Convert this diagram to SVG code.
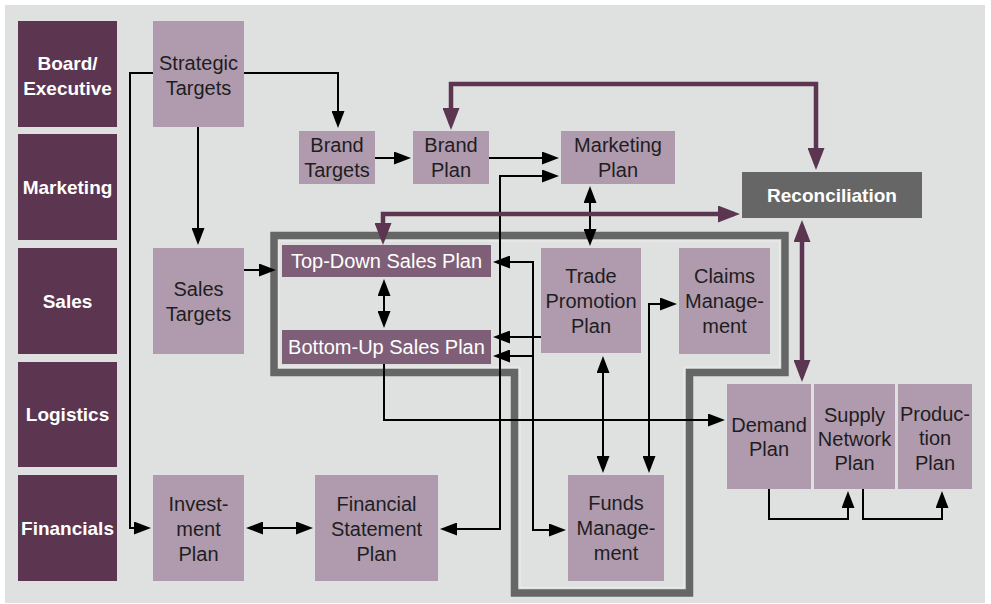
<svg xmlns="http://www.w3.org/2000/svg" width="991" height="604" viewBox="0 0 991 604">
<defs>
<style>
.lane rect{fill:#5c3550}
.lane text{fill:#fff;font-family:'Liberation Sans',Arial,sans-serif;font-weight:bold;font-size:19px;text-anchor:middle}
.node rect{fill:#b09aae}
.node text{fill:#1e1e1e;font-family:'Liberation Sans',Arial,sans-serif;font-size:20px;text-anchor:middle}
.mid rect{fill:#7e5f77}
.mid text{fill:#fff}
.dark rect{fill:#666}
.dark text{fill:#fff;font-weight:bold;font-size:19px}
.blk{fill:none;stroke:#000;stroke-width:2}
.pur{fill:none;stroke:#5c3550;stroke-width:4.5}
.e{marker-end:url(#ab)}
.se{marker-start:url(#ab);marker-end:url(#ab)}
.pse{marker-start:url(#ap);marker-end:url(#ap)}
</style>
<marker id="ab" markerUnits="userSpaceOnUse" markerWidth="17" markerHeight="13" refX="14" refY="6.5" orient="auto-start-reverse"><path d="M0,0 L17,6.5 L0,13 Z" fill="#000"/></marker>
<marker id="ap" markerUnits="userSpaceOnUse" markerWidth="22" markerHeight="17" refX="16" refY="8.5" orient="auto-start-reverse"><path d="M0,0 L22,8.5 L0,17 Z" fill="#5c3550"/></marker>
</defs>
<rect x="0" y="0" width="991" height="604" fill="#fff"/>
<rect x="5" y="5" width="980" height="598" fill="#dfe1e0"/>

<g id="lanes">
<g id="lane-board" class="lane"><rect x="18" y="21" width="99" height="106"/><text x="67.5" y="70">Board/</text><text x="67.5" y="95">Executive</text></g>
<g id="lane-marketing" class="lane"><rect x="18" y="134" width="99" height="106"/><text x="67.5" y="194">Marketing</text></g>
<g id="lane-sales" class="lane"><rect x="18" y="248" width="99" height="106"/><text x="67.5" y="308">Sales</text></g>
<g id="lane-logistics" class="lane"><rect x="18" y="362" width="99" height="105"/><text x="67.5" y="421">Logistics</text></g>
<g id="lane-financials" class="lane"><rect x="18" y="475" width="99" height="106"/><text x="67.5" y="535">Financials</text></g>
</g>

<g id="frame">
<path d="M274,235.5 H785 V372.5 H689.5 V593 H514.5 V372.5 H274 Z" fill="none" stroke="#666" stroke-width="7.5"/>
<path d="M279,241 H779.5 V367 H684 V587.5 H520 V367 H279 Z" fill="none" stroke="#ececec" stroke-width="1"/>
</g>

<g id="connectors">
<path class="blk e" d="M244,73 H338 V125"/>
<path class="blk e" d="M198,127 V242"/>
<path class="blk e" d="M153,73 H130 V528 H148"/>
<path class="blk e" d="M375,158 H408"/>
<path class="blk e" d="M489,158 H556"/>
<path class="blk se" d="M443,529 H500 V176 H556"/>
<path class="blk se" d="M590,189 V243"/>
<path class="blk e" d="M244,270 H273"/>
<path class="blk se" d="M384,282 V325"/>
<path class="blk se" d="M496,262 H533 V530 H563"/>
<path class="blk e" d="M533,356 H496"/>
<path class="blk e" d="M541,337 H496"/>
<path class="blk se" d="M603,359 V470"/>
<path class="blk se" d="M674,304 H649 V470"/>
<path class="blk e" d="M384,364 V420 H722"/>
<path class="blk se" d="M249,528 H310"/>
<path class="blk e" d="M769,489 V519 H848 V494"/>
<path class="blk e" d="M863,489 V519 H942 V494"/>
<path class="pur pse" d="M451,124 V84 H816 V164"/>
<path class="pur pse" d="M383,239 V214 H734"/>
<path class="pur pse" d="M802,226 V376"/>
</g>

<g id="strategic-targets" class="node"><rect x="153" y="21" width="91" height="106"/><text x="198.5" y="70">Strategic</text><text x="198.5" y="95">Targets</text></g>
<g id="sales-targets" class="node"><rect x="153" y="248" width="91" height="106"/><text x="198.5" y="296">Sales</text><text x="198.5" y="321">Targets</text></g>
<g id="investment-plan" class="node"><rect x="153" y="475" width="91" height="106"/><text x="198.5" y="511">Invest-</text><text x="198.5" y="536">ment</text><text x="198.5" y="561">Plan</text></g>
<g id="brand-targets" class="node"><rect x="299" y="131" width="76" height="53"/><text x="337" y="152">Brand</text><text x="337" y="177">Targets</text></g>
<g id="brand-plan" class="node"><rect x="413" y="131" width="76" height="53"/><text x="451" y="152">Brand</text><text x="451" y="177">Plan</text></g>
<g id="marketing-plan" class="node"><rect x="561" y="131" width="114" height="53"/><text x="618" y="152">Marketing</text><text x="618" y="177">Plan</text></g>
<g id="reconciliation" class="node dark"><rect x="742" y="172" width="180" height="46"/><text x="832" y="202">Reconciliation</text></g>
<g id="top-down-sales-plan" class="node mid"><rect x="282" y="245" width="209" height="32"/><text x="386.5" y="268">Top-Down Sales Plan</text></g>
<g id="bottom-up-sales-plan" class="node mid"><rect x="282" y="330" width="209" height="34"/><text x="386.5" y="354">Bottom-Up Sales Plan</text></g>
<g id="trade-promotion-plan" class="node"><rect x="541" y="248" width="100" height="105"/><text x="591" y="283">Trade</text><text x="591" y="308">Promotion</text><text x="591" y="333">Plan</text></g>
<g id="claims-management" class="node"><rect x="679" y="248" width="91" height="106"/><text x="724.5" y="283">Claims</text><text x="724.5" y="308">Manage-</text><text x="724.5" y="333">ment</text></g>
<g id="funds-management" class="node"><rect x="568" y="475" width="96" height="106"/><text x="616" y="510">Funds</text><text x="616" y="535">Manage-</text><text x="616" y="560">ment</text></g>
<g id="financial-statement-plan" class="node"><rect x="315" y="475" width="123" height="106"/><text x="376.5" y="511">Financial</text><text x="376.5" y="536">Statement</text><text x="376.5" y="561">Plan</text></g>
<g id="demand-plan" class="node"><rect x="727" y="384" width="84" height="105"/><text x="769" y="432">Demand</text><text x="769" y="456">Plan</text></g>
<g id="supply-network-plan" class="node"><rect x="814" y="384" width="81" height="105"/><text x="854.5" y="422">Supply</text><text x="854.5" y="446">Network</text><text x="854.5" y="470">Plan</text></g>
<g id="production-plan" class="node"><rect x="898" y="384" width="74" height="105"/><text x="935" y="421">Produc-</text><text x="935" y="445">tion</text><text x="935" y="470">Plan</text></g>
</svg>
